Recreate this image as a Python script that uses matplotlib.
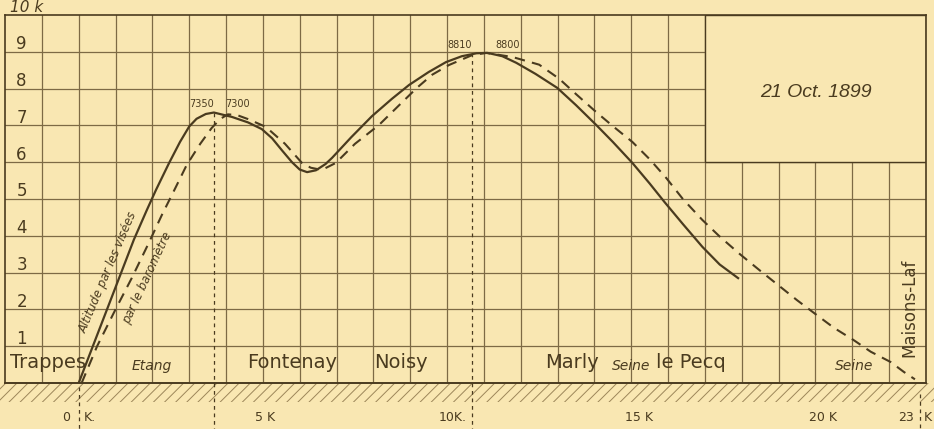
#!/usr/bin/env python

import matplotlib
matplotlib.use('Agg')
import matplotlib.pyplot as plt
from matplotlib.patches import Rectangle

# altitude read from sightings (solid line)
visees_km = [0, 0.5, 1.0, 1.5, 1.85, 2.1, 2.45, 2.75, 3.0, 3.2, 3.45, 3.67, 4.16,
             4.6, 4.97, 5.25, 5.52, 5.79, 6.0, 6.2, 6.44, 6.7, 6.88, 7.4, 7.96,
             8.5, 8.97, 9.5, 9.97, 10.4, 10.8, 11.1, 11.5, 11.88, 12.4, 12.99,
             13.5, 14.05, 14.5, 15.03, 15.5, 15.9, 16.4, 16.93, 17.4, 17.9]
visees_alt = [0, 1.3, 2.6, 3.9, 4.7, 5.25, 5.97, 6.55, 6.97, 7.18, 7.31, 7.35, 7.23,
              7.08, 6.9, 6.65, 6.32, 6.0, 5.8, 5.73, 5.78, 5.95, 6.12, 6.68, 7.25,
              7.72, 8.1, 8.45, 8.72, 8.88, 8.96, 8.97, 8.88, 8.7, 8.4, 8.02,
              7.55, 7.01, 6.55, 5.98, 5.42, 4.92, 4.32, 3.7, 3.22, 2.85]

# altitude from the barometer (dashed line)
baro_km = [0.08, 0.5, 1.0, 1.44, 1.9, 2.26, 2.6, 2.93, 3.3, 3.61, 3.85, 4.05, 4.3,
           4.6, 5.08, 5.6, 6.06, 6.3, 6.6, 6.98, 7.5, 8.15, 8.7, 9.18, 9.6,
           10.05, 10.68, 11.06, 11.77, 12.5, 13.04, 13.5, 14.05, 14.5, 15.03,
           15.5, 15.95, 16.4, 16.93, 17.4, 17.95, 18.5, 19.05, 19.5, 20.03, 20.5,
           21.03, 21.5, 22.04, 22.4, 22.7]
baro_alt = [0.0, 1.0, 2.0, 2.85, 3.8, 4.57, 5.25, 5.92, 6.5, 6.93, 7.18, 7.3, 7.28,
            7.17, 6.96, 6.5, 5.98, 5.85, 5.79, 5.98, 6.5, 7.01, 7.55, 8.02, 8.38,
            8.64, 8.91, 8.97, 8.86, 8.65, 8.27, 7.85, 7.36, 6.98, 6.55,
            6.08, 5.57, 5.0, 4.43, 3.98, 3.5, 3.05, 2.61, 2.25, 1.85, 1.5,
            1.17, 0.85, 0.57, 0.3, 0.1]

peak_labels = ['7350', '7300', '8810', '8800']
peak_x = [3.34, 4.3, 10.35, 11.65]
peak_y = [7.45, 7.45, 9.05, 9.05]

places = ['Trappes', 'Fontenay', 'Noisy', 'Marly', 'le Pecq']
places_x = [-0.82, 5.8, 8.76, 13.4, 16.63]
rivers = ['Etang', 'Seine', 'Seine']
rivers_x = [1.97, 15.0, 21.06]

km_labels = ['0', 'K.', '5 K', '10K.', '15 K', '20 K', '23', 'K']
km_label_x = [-0.35, 0.15, 5.05, 10.15, 15.2, 20.2, 22.45, 22.95]
km_label_ha = ['center', 'left', 'center', 'center', 'center', 'center', 'center', 'left']

bg = '#f9e7b2'
ink = '#4a3b1f'
gridc = '#7d6a45'

plt.rcParams['hatch.linewidth'] = 0.7

fig = plt.figure(figsize=(9.34, 4.29), dpi=100)
fig.patch.set_facecolor(bg)
ax = fig.add_axes([5 / 934, 46 / 429, 921 / 934, 368 / 429])
ax.set_facecolor(bg)
ax.set_xlim(-2, 23)
ax.set_ylim(0, 10)
ax.set_xticks([])
ax.set_yticks([])
for s in ax.spines.values():
    s.set_color(ink)
    s.set_linewidth(1.2)

# grid, 1 km cells
for k in range(-1, 23):
    ax.axvline(k, color=gridc, lw=0.9, zorder=1)
for k in range(1, 10):
    ax.axhline(k, color=gridc, lw=0.9, zorder=1)

# date box, top right
ax.add_patch(Rectangle((17, 6), 6, 4, facecolor=bg, edgecolor=ink, lw=1.0, zorder=2))
ax.text(20.0, 7.9, '21 Oct. 1899', fontsize=14, style='italic', color=ink,
        family='Liberation Sans', ha='center', va='center', zorder=3)

# ground strip
ax.fill_between([-2.3, 23.3], -0.52, 0, facecolor=bg, edgecolor='#9c8659',
                hatch='///', lw=0, clip_on=False, zorder=1)
ax.plot([-2, 23], [0, 0], color=ink, lw=1.2, clip_on=False, zorder=3)

# the two curves
ax.plot(visees_km, visees_alt, color=ink, lw=1.6, zorder=4)
ax.plot(baro_km, baro_alt, color=ink, lw=1.5, dashes=(5, 3.5), zorder=4)

# vertical markers at the peaks and km points
ax.plot([3.67, 3.67], [7.35, -1.3], color=ink, lw=0.9, dashes=(3, 3),
        clip_on=False, zorder=3)
ax.plot([10.68, 10.68], [8.97, -1.3], color=ink, lw=0.9, dashes=(3, 3),
        clip_on=False, zorder=3)
ax.plot([0, 0], [-0.1, -1.3], color=ink, lw=0.9, dashes=(3, 3), clip_on=False)
ax.plot([22.85, 22.85], [-0.3, -1.3], color=ink, lw=0.9, dashes=(3, 3), clip_on=False)

for lab, x, y in zip(peak_labels, peak_x, peak_y):
    ax.text(x, y, lab, fontsize=7, color=ink, ha='center', va='bottom', zorder=5)

# altitude labels
for k in range(1, 10):
    ax.text(-1.55, k - 0.04, str(k), fontsize=12, color=ink, ha='center',
            va='bottom', zorder=5)
ax.text(-1.4, 10.0, '10 k', fontsize=11, style='italic', color=ink, ha='center',
        va='bottom', clip_on=False)

# km labels under the ground
for lab, x, ha in zip(km_labels, km_label_x, km_label_ha):
    ax.text(x, -0.95, lab, fontsize=9, color=ink, ha=ha, va='center',
            clip_on=False)

# place names
for lab, x in zip(places, places_x):
    ax.text(x, 0.42, lab, fontsize=14, color=ink, ha='center', va='baseline', zorder=5)
for lab, x in zip(rivers, rivers_x):
    ax.text(x, 0.35, lab, fontsize=10, style='italic', color=ink, ha='center',
            va='baseline', zorder=5)
ax.text(22.55, 2.05, 'Maisons-Laf', fontsize=12, color=ink, rotation=90,
        ha='center', va='center', zorder=5)

# curve captions
ax.text(0.8, 3.0, 'Altitude par les visées', fontsize=8.5, style='italic',
        color=ink, rotation=67, ha='center', va='center', zorder=5)
ax.text(1.85, 2.85, 'par le baromètre', fontsize=8.5, style='italic',
        color=ink, rotation=65, ha='center', va='center', zorder=5)

plt.savefig('out.png', dpi=100, facecolor=bg)
